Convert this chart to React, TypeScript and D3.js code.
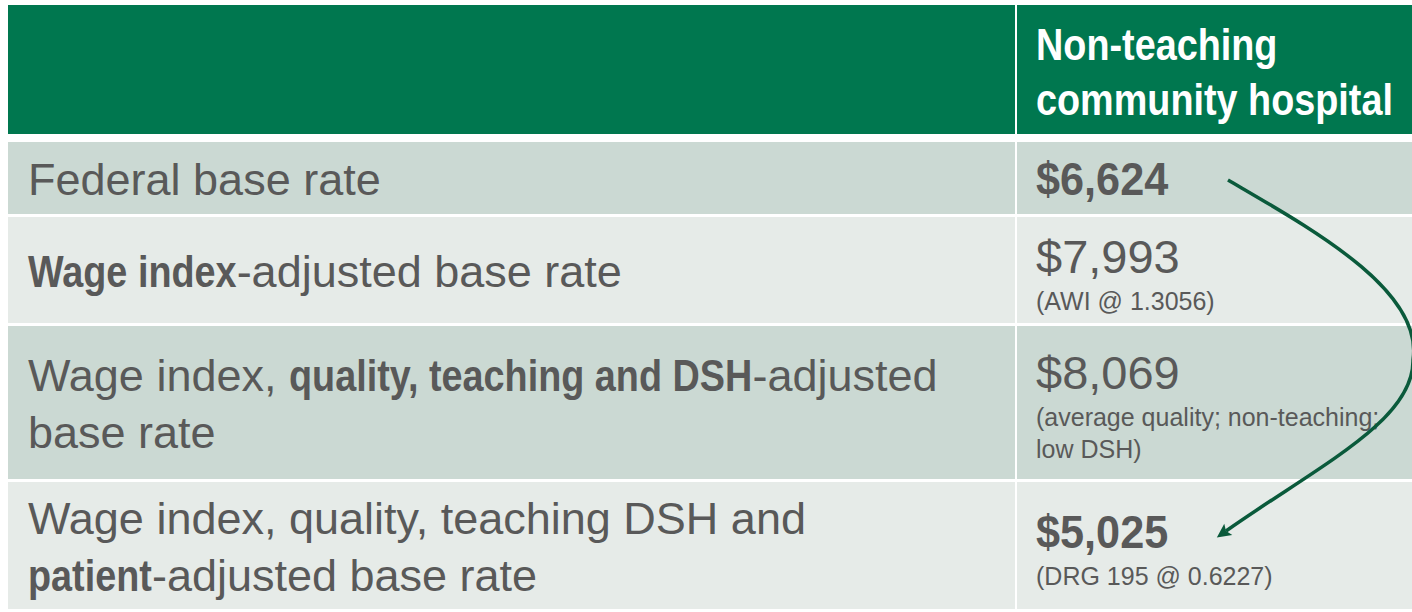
import React from "react";
import * as d3 from "d3";

// table content
const headerLines = ["Non-teaching", "community hospital"];

// each row label: lines made of [text, bold] segments
const rowLabels: [string, boolean][][][] = [
  [[["Federal base rate", false]]],
  [[["Wage index", true], ["-adjusted base rate", false]]],
  [
    [["Wage index, ", false], ["quality, teaching and DSH", true], ["-adjusted", false]],
    [["base rate", false]],
  ],
  [
    [["Wage index, quality, teaching DSH and", false]],
    [["patient", true], ["-adjusted base rate", false]],
  ],
];

const rateValues = ["$6,624", "$7,993", "$8,069", "$5,025"];
const rateBold = [true, false, false, true];
const rateNotes = [
  [],
  ["(AWI @ 1.3056)"],
  ["(average quality; non-teaching;", "low DSH)"],
  ["(DRG 195 @ 0.6227)"],
];

const W = 1412;
const H = 612;
const left = 8;
const colSplit = 1015;
const gap = 2;
const headerTop = 5;
const headerBottom = 134;
const rowEdges = [142, 217, 326, 482, 612];

const green = "#00774f";
const arrowGreen = "#0a5a3b";
const rowDark = "#cbd9d3";
const rowLight = "#e6ebe8";
const textGray = "#595959";

const family = "'Liberation Sans', Arial, sans-serif";
const condense = 0.84; // the bold face is a condensed gothic
const numCondense = 0.94;

const labelSize = 45;
const boldSize = 45;
const labelLineGap = 57;
const capHalf = 16;
const valueSize = 47;
const noteSize = 25;
const noteGap = 32;

let ctx: CanvasRenderingContext2D | null = null;
function measure(t: string, size: number, bold: boolean) {
  if (!ctx) ctx = document.createElement("canvas").getContext("2d");
  if (!ctx) return t.length * size * 0.5;
  ctx.font = `${bold ? "bold " : ""}${size}px "Liberation Sans"`;
  return ctx.measureText(t).width;
}

function Line({ segs, x, y }: { segs: [string, boolean][]; x: number; y: number }) {
  let cx = x;
  return (
    <g>
      {segs.map(([t, b], j) => {
        const sx = cx;
        if (b) {
          cx += measure(t, boldSize, true) * condense;
          return (
            <text
              key={j}
              transform={`translate(${sx},${y}) scale(${condense},1)`}
              fill={textGray}
              fontFamily={family}
              fontWeight="bold"
              fontSize={boldSize}
              style={{ whiteSpace: "pre" }}
            >
              {t}
            </text>
          );
        }
        cx += measure(t, labelSize, false);
        return (
          <text
            key={j}
            x={sx}
            y={y}
            fill={textGray}
            fontFamily={family}
            fontSize={labelSize}
            style={{ whiteSpace: "pre" }}
          >
            {t}
          </text>
        );
      })}
    </g>
  );
}

export default function App() {
  const textX = left + 20;
  const valX = colSplit + gap + 19;

  const rows = rowLabels.map((lines, i) => {
    const top = rowEdges[i];
    const bottom = rowEdges[i + 1] - 3;
    const mid = (top + bottom) / 2;
    const first = mid - ((lines.length - 1) * labelLineGap) / 2 + capHalf + 1;
    const notes = rateNotes[i];
    let valueBase = mid + capHalf + 1;
    if (notes.length) {
      const blockH = 33 + 37 + noteGap * (notes.length - 1) + 5;
      valueBase = mid + 7 - blockH / 2 + 33;
    }
    return { top, bottom, lines, first, notes, valueBase, i };
  });

  // curved arrow from first value to the last one
  const p = d3.path();
  const sy = rows[0].valueBase - 15;
  const ey = rows[3].valueBase - 17;
  p.moveTo(valX + 192, sy);
  p.bezierCurveTo(valX + 274, sy + 48, W + 12, sy + 110, W + 1, sy + 180);
  p.bezierCurveTo(W + 2, sy + 240, valX + 284, sy + 285, valX + 190, ey);

  return (
    <svg
      width={W}
      height={H}
      style={{ position: "absolute", left: 0, top: 0, background: "#fff" }}
    >
      <defs>
        <marker
          id="head"
          viewBox="0 0 10 10"
          refX="2"
          refY="5"
          markerWidth="4.5"
          markerHeight="4"
          orient="auto"
          markerUnits="strokeWidth"
        >
          <path d="M0,0 L10,5 L0,10 L2,5 z" fill={arrowGreen} />
        </marker>
      </defs>

      {/* header */}
      <rect x={left} y={headerTop} width={colSplit - left} height={headerBottom - headerTop} fill={green} />
      <rect x={colSplit + gap} y={headerTop} width={W - colSplit - gap} height={headerBottom - headerTop} fill={green} />
      {headerLines.map((t, k) => (
        <text
          key={t}
          transform={`translate(${valX},${60 + k * 55}) scale(${condense},1)`}
          fill="#fff"
          fontFamily={family}
          fontWeight="bold"
          fontSize={45}
        >
          {t}
        </text>
      ))}

      {rows.map((r) => (
        <g key={r.i}>
          <rect x={left} y={r.top} width={colSplit - left} height={r.bottom - r.top} fill={r.i % 2 ? rowLight : rowDark} />
          <rect x={colSplit + gap} y={r.top} width={W - colSplit - gap} height={r.bottom - r.top} fill={r.i % 2 ? rowLight : rowDark} />
          {r.lines.map((segs, k) => (
            <Line key={k} segs={segs} x={textX} y={r.first + k * labelLineGap} />
          ))}
          {rateBold[r.i] ? (
            <text
              transform={`translate(${valX},${r.valueBase}) scale(${numCondense},1)`}
              fill={textGray}
              fontFamily={family}
              fontWeight="bold"
              fontSize={46}
            >
              {rateValues[r.i]}
            </text>
          ) : (
            <text x={valX} y={r.valueBase} fill={textGray} fontFamily={family} fontSize={valueSize}>
              {rateValues[r.i]}
            </text>
          )}
          {r.notes.map((n, k) => (
            <text
              key={n}
              x={valX}
              y={r.valueBase + 37 + k * noteGap}
              fill={textGray}
              fontFamily={family}
              fontSize={noteSize}
            >
              {n}
            </text>
          ))}
        </g>
      ))}

      <path
        d={p.toString()}
        fill="none"
        stroke={arrowGreen}
        strokeWidth={3.5}
        markerEnd="url(#head)"
      />
    </svg>
  );
}
